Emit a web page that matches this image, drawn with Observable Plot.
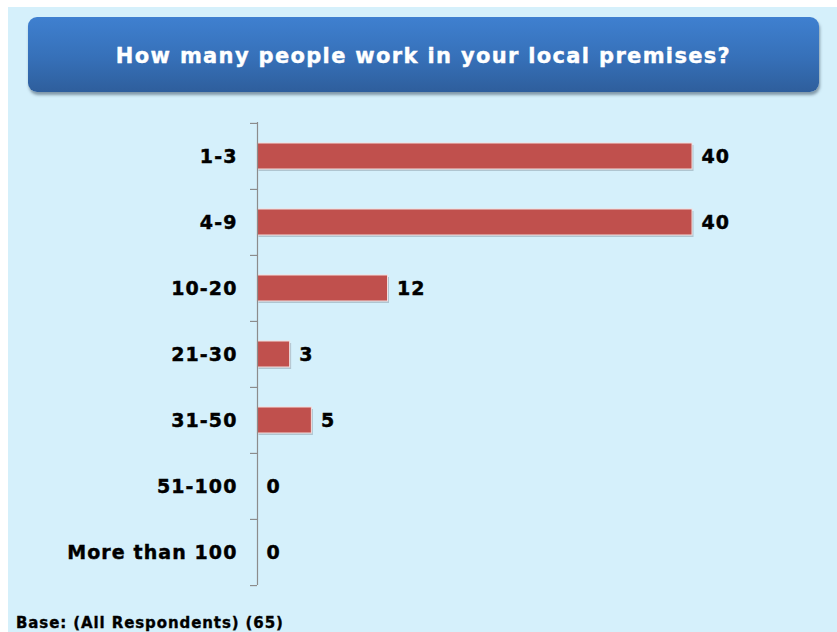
<!DOCTYPE html>
<html>
<head>
<meta charset="utf-8">
<script src="https://cdn.jsdelivr.net/npm/d3@7"></script>
<script src="https://cdn.jsdelivr.net/npm/@observablehq/plot@0.6"></script>
<style>
  html, body { margin: 0; padding: 0; background: #ffffff; width: 837px; height: 632px; overflow: hidden; }
  #panel { position: absolute; left: 8px; top: 7px; width: 829px; height: 625px; background: #d5f0fb; }
  #title {
    position: absolute; left: 28px; top: 17px; width: 791px; height: 75px;
    border-radius: 9px;
    background: linear-gradient(to bottom, #3f80d0 0%, #3670b8 55%, #2e5e9c 100%);
    box-shadow: 1px 3px 3px rgba(60, 80, 100, 0.55);
    color: #ffffff; font-family: "DejaVu Sans", Verdana, sans-serif; font-weight: bold;
    font-size: 21px; letter-spacing: 1.33px; -webkit-text-stroke: 0.4px #ffffff;
    display: flex; align-items: center; justify-content: center; padding-top: 2px; box-sizing: border-box;
  }
  #chart { position: absolute; left: 8px; top: 100px; }
  #chart svg text { letter-spacing: 1.1px; stroke: #000; stroke-width: 0.45px; }
  #footer {
    position: absolute; left: 16px; top: 614px; line-height: 18px;
    font-family: "DejaVu Sans", Verdana, sans-serif; font-weight: bold; font-size: 15px;
    letter-spacing: 0.9px; color: #000; -webkit-text-stroke: 0.35px #000;
  }
</style>
</head>
<body>
<div id="panel"></div>
<div id="title">How many people work in your local premises?</div>
<div id="chart"></div>
<div id="footer">Base: (All Respondents) (65)</div>
<script>
const categories = ["1-3", "4-9", "10-20", "21-30", "31-50", "51-100", "More than 100"];
const values = [40, 40, 12, 3, 5, 0, 0];

const data = categories.map((c, i) => ({category: c, value: values[i]}));

const W = 829, H = 500, mt = 22, mb = 15, ml = 249, mr = 145;
const step = (H - mt - mb) / categories.length;
const xMax = 40;
const pxPerUnit = (W - ml - mr) / xMax;
const tickLen = 7 / pxPerUnit;

const chart = Plot.plot({
  width: W,
  height: H,
  marginTop: mt,
  marginBottom: mb,
  marginLeft: ml,
  marginRight: mr,
  style: {background: "transparent", fontFamily: "DejaVu Sans, Verdana, sans-serif", fontSize: "19px", fontWeight: "bold", color: "#000"},
  x: {domain: [0, xMax], axis: null},
  y: {domain: categories, padding: 0, label: null},
  marks: [
    // bar shadows
    Plot.barX(data, {x: "value", y: "category", insetTop: 20, insetBottom: 20, fill: "#8fa3ad", fillOpacity: 0.55, dx: 1.5, dy: 2}),
    Plot.barX(data, {x: "value", y: "category", insetTop: 20, insetBottom: 20, fill: "#c0504d", stroke: "#f3dede", strokeWidth: 1}),
    // axis line
    Plot.ruleX([0], {stroke: "#8c8c8c", strokeWidth: 1.2}),
    // boundary ticks
    Plot.ruleY(categories, {y: d => d, x1: -tickLen, x2: 0, dy: -step / 2, stroke: "#8c8c8c", strokeWidth: 1.2}),
    Plot.ruleY(categories.slice(-1), {y: d => d, x1: -tickLen, x2: 0, dy: step / 2, stroke: "#8c8c8c", strokeWidth: 1.2}),
    Plot.axisY({tickSize: 0, tickPadding: 20, fontSize: 19, fontWeight: "bold", label: null, fill: "#000"}),
    Plot.text(data, {x: "value", y: "category", text: d => String(d.value), dx: 9, textAnchor: "start", fontSize: 19, fontWeight: "bold", fill: "#000"})
  ]
});
document.getElementById("chart").appendChild(chart);
</script>
</body>
</html>
